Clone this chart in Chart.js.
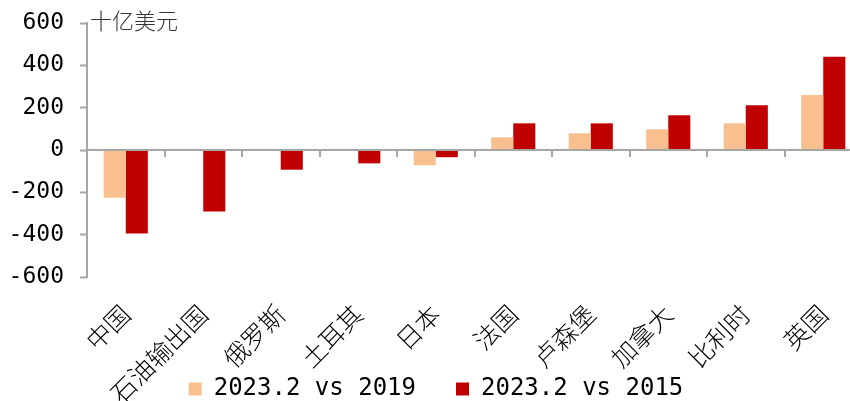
<!DOCTYPE html>
<html>
<head>
<meta charset="utf-8">
<script src="https://cdn.jsdelivr.net/npm/chart.js@4/dist/chart.umd.min.js"></script>
<style>
  html, body { margin: 0; padding: 0; background: #fff; overflow: hidden; }
  #wrap { position: relative; width: 862px; height: 475px; }
</style>
</head>
<body>
<div id="wrap"><canvas id="chart"></canvas></div>
<script>
const categories = ["中国", "石油输出国", "俄罗斯", "土耳其", "日本", "法国", "卢森堡", "加拿大", "比利时", "英国"];
const vs2019 = [-225, null, null, null, -72, 60, 79, 98, 126, 260];
const vs2015 = [-395, -291, -93, -63, -34, 126, 126, 164, 212, 440];
const seriesNames = ["2023.2 vs 2019", "2023.2 vs 2015"];
const unitLabel = "十亿美元";

const axisColor = "#a6a6a6";
const monoFont = "'DejaVu Sans Mono', monospace";
const cjkFont = "'Noto Sans CJK SC', sans-serif";
const legendPad = 40;
const legendFontSize = 24;

const decorations = {
  id: "decorations",
  afterLayout(chart) {
    // pull the legend up so the rotated labels run into it, as in the original
    const lg = chart.legend;
    const dy = (389 - legendPad - legendFontSize / 2) - lg.top;
    lg.top += dy;
    lg.bottom += dy;
    lg.left += 5;
    lg.right += 5;
  },
  afterDatasetsDraw(chart) {
    const { ctx, chartArea, scales: { x, y } } = chart;
    const zero = y.getPixelForValue(0);
    ctx.save();
    ctx.strokeStyle = axisColor;
    ctx.lineWidth = 2;
    ctx.beginPath();
    ctx.moveTo(chartArea.left, zero);
    ctx.lineTo(chartArea.right, zero);
    ctx.stroke();
    for (let i = 1; i < categories.length; i++) {
      const bx = Math.round((x.getPixelForValue(i - 1) + x.getPixelForValue(i)) / 2);
      ctx.beginPath();
      ctx.moveTo(bx, zero);
      ctx.lineTo(bx, zero + 7);
      ctx.stroke();
    }
    ctx.fillStyle = "#333";
    ctx.font = "300 22px " + cjkFont;
    ctx.textBaseline = "middle";
    ctx.fillText(unitLabel, chartArea.left + 3, chartArea.top - 2);
    ctx.restore();
  },
};

new Chart(document.getElementById("chart"), {
  type: "bar",
  data: {
    labels: categories,
    datasets: [
      { label: seriesNames[0], data: vs2019, backgroundColor: "#f9c08f" },
      { label: seriesNames[1], data: vs2015, backgroundColor: "#c00000" },
    ],
  },
  options: {
    responsive: true,
    maintainAspectRatio: false,
    animation: false,
    devicePixelRatio: 1,
    layout: { padding: { top: 23, left: 0, right: 0, bottom: 0 } },
    datasets: { bar: { categoryPercentage: 0.57, barPercentage: 1 } },
    plugins: {
      tooltip: { enabled: false },
      legend: {
        position: "bottom",
        labels: {
          boxWidth: 13,
          boxHeight: 13,
          padding: legendPad,
          color: "#000",
          font: { family: monoFont, size: legendFontSize },
        },
      },
    },
    scales: {
      x: {
        grid: { display: false },
        border: { display: false },
        ticks: {
          minRotation: 45,
          maxRotation: 45,
          padding: 14,
          color: "#000",
          font: { family: cjkFont, size: 25, weight: 300 },
        },
        afterFit: (scale) => { scale.height = 124; },
      },
      y: {
        min: -600,
        max: 600,
        ticks: {
          stepSize: 200,
          padding: 16,
          color: "#000",
          font: { family: monoFont, size: 23 },
        },
        grid: {
          color: "transparent",
          tickColor: axisColor,
          tickLength: 7,
          tickWidth: 2,
        },
        border: { color: axisColor, width: 2 },
        afterFit: (scale) => {
          scale.width = 87;
          // the tick padding would otherwise push the plot top down
          scale.paddingTop = 0;
          scale.paddingBottom = 0;
        },
      },
    },
  },
  plugins: [decorations],
});
</script>
</body>
</html>
